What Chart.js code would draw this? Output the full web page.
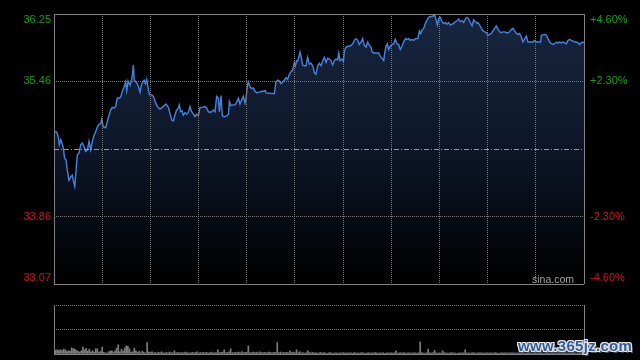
<!DOCTYPE html>
<html>
<head>
<meta charset="utf-8">
<script src="https://cdn.jsdelivr.net/npm/chart.js@4.4.1/dist/chart.umd.min.js"></script>
<style>
  html, body { margin: 0; padding: 0; background: #000; }
  #wrap { position: relative; width: 640px; height: 360px; overflow: hidden; background: #000; }
  #price { position: absolute; left: 0; top: 0; }
  #volume { position: absolute; left: 0; top: 290px; }
  .sina {
    position: absolute; left: 532px; top: 274px;
    font: 10.5px/11px "Liberation Sans", Arial, sans-serif; color: #a3a3a3;
  }
  .mark {
    position: absolute; left: 518px; top: 338px;
    font: bold 15px/15px "Liberation Sans", Arial, sans-serif; letter-spacing: 0.3px;
    color: #2f5d9f;
    text-shadow: 1px 0 #e6e6e6, -1px 0 #e6e6e6, 0 1px #e6e6e6, 0 -1px #e6e6e6,
                 1px 1px #e6e6e6, -1px -1px #e6e6e6, 1px -1px #e6e6e6, -1px 1px #e6e6e6,
                 2px 2px #555;
  }
</style>
</head>
<body>
<div id="wrap">
  <canvas id="price" width="640" height="290"></canvas>
  <canvas id="volume" width="640" height="70"></canvas>
  <div class="sina">sina.com</div>
  <div class="mark">www.365jz.com</div>
</div>
<script>
// minutes since the 09:30 open (330 trading minutes)
const minutes = [
  0.0,1.7,2.5,3.3,4.2,5.0,5.8,6.6,7.5,8.3,
  9.3,10.4,11.4,12.0,12.9,13.7,14.5,15.6,16.6,17.6,
  18.7,19.7,20.8,21.8,22.8,23.9,24.9,25.9,27.0,28.0,
  29.1,29.7,30.7,32.2,33.2,34.3,35.3,36.3,37.4,38.4,
  39.4,40.5,41.5,42.6,43.6,44.6,45.3,46.1,47.3,48.2,
  48.8,49.4,50.0,50.9,51.9,52.9,53.6,54.4,55.2,56.1,
  56.9,57.7,58.5,59.4,60.6,61.9,63.3,64.4,65.4,
  66.0,68.1,69.7,71.2,72.2,73.3,74.3,75.3,76.4,77.4,
  78.0,78.9,79.7,80.5,81.6,82.6,83.6,84.7,85.7,86.8,
  87.8,88.8,89.9,90.9,92.6,94.0,95.1,96.1,97.1,98.2,
  99.2,100.3,101.3,102.3,103.0,104.0,104.8,105.9,107.5,108.6,
  109.2,110.2,111.7,112.7,113.7,114.8,115.8,116.9,117.9,118.9,
  119.6,120.4,121.0,122.1,123.1,124.1,125.2,126.2,127.2,128.3,
  129.3,130.8,131.6,
  132.0,137.2,138.2,139.3,140.3,141.3,142.4,143.4,144.5,145.5,
  146.5,147.6,148.6,149.6,150.3,151.1,151.9,153.2,154.0,154.8,
  155.9,156.9,157.9,159.0,160.0,161.1,162.1,163.1,164.2,165.2,
  166.3,167.3,168.3,169.4,170.4,171.4,172.5,173.5,174.6,175.6,
  176.6,177.3,178.1,179.3,180.2,180.8,181.8,182.9,183.9,184.9,
  186.0,187.0,188.1,189.1,190.1,191.2,192.2,193.2,194.3,195.3,
  196.4,197.4,
  198.0,199.0,201.1,202.2,203.2,204.2,205.3,205.9,206.7,207.5,
  208.4,209.4,210.5,211.5,212.5,213.6,214.6,215.6,216.7,217.7,
  218.8,219.8,220.8,221.9,222.9,223.9,225.0,226.6,227.5,228.3,
  229.1,230.2,231.2,232.3,233.3,234.3,235.4,236.4,237.0,237.9,
  238.7,239.5,240.6,241.6,242.6,243.7,244.7,245.7,246.8,247.8,
  248.9,249.9,250.9,252.0,253.0,254.1,255.1,256.1,257.2,258.2,
  259.2,260.3,261.3,262.4,263.4,
  264.0,265.0,266.1,267.1,268.2,269.2,270.2,271.3,272.3,273.3,
  274.4,275.4,276.5,277.5,278.5,279.6,280.6,281.6,282.7,283.7,
  284.8,285.8,286.8,287.9,288.9,289.9,291.0,292.0,293.1,294.1,
  295.1,296.2,298.3,299.3,300.3,303.0,303.4,305.5,306.6,307.6,
  308.6,309.7,310.7,311.7,312.8,313.8,314.9,315.9,316.9,318.0,
  319.0,320.1,321.1,322.1,323.2,324.2,325.2,326.3,327.3,328.4,
  329.4,330.0
];

const prices = [
  34.87,34.86,34.81,34.71,34.77,34.73,34.67,34.55,34.53,34.41,
  34.29,34.33,34.35,34.29,34.22,34.39,34.59,34.61,34.71,34.73,
  34.69,34.63,34.65,34.75,34.65,34.75,34.82,34.86,34.92,34.95,
  34.96,35.01,34.92,34.91,34.98,35.06,35.12,35.15,35.14,35.16,
  35.26,35.26,35.27,35.34,35.39,35.45,35.35,35.46,35.41,35.47,
  35.53,35.65,35.47,35.45,35.43,35.37,35.33,35.41,35.45,35.47,
  35.43,35.48,35.39,35.30,35.30,35.28,35.20,35.16,35.14,
  35.13,35.16,35.19,35.15,35.08,35.00,34.99,35.06,35.12,35.14,
  35.18,35.10,35.11,35.06,35.09,35.07,35.09,35.16,35.10,35.07,
  35.04,35.07,35.05,35.15,35.15,35.16,35.14,35.10,35.09,35.10,
  35.12,35.10,35.28,35.26,35.10,35.29,35.05,35.04,35.05,35.07,
  35.22,35.17,35.18,35.18,35.21,35.26,35.19,35.24,35.28,35.20,
  35.26,35.41,35.45,35.39,35.37,35.38,35.34,35.32,35.33,35.33,
  35.34,35.34,35.35,
  35.32,35.31,35.45,35.47,35.46,35.43,35.45,35.47,35.50,35.48,
  35.54,35.57,35.59,35.68,35.64,35.70,35.70,35.80,35.74,35.65,
  35.64,35.64,35.74,35.66,35.67,35.64,35.56,35.54,35.64,35.67,
  35.64,35.70,35.74,35.68,35.73,35.72,35.70,35.65,35.70,35.72,
  35.71,35.79,35.70,35.72,35.69,35.81,35.86,35.87,35.87,35.88,
  35.90,35.94,35.96,35.94,35.89,35.92,35.96,35.88,35.86,35.92,
  35.88,35.86,
  35.81,35.79,35.79,35.79,35.75,35.73,35.70,35.79,35.87,35.90,
  35.83,35.87,35.89,35.90,35.95,35.90,35.89,35.83,35.87,35.92,
  35.96,35.95,35.96,35.94,35.95,35.94,35.96,35.96,36.05,36.02,
  36.06,36.08,36.14,36.18,36.21,36.22,36.22,36.23,36.24,36.18,
  36.12,36.20,36.21,36.16,36.14,36.15,36.13,36.15,36.12,36.13,
  36.14,36.16,36.17,36.19,36.16,36.17,36.15,36.19,36.21,36.19,
  36.15,36.11,36.18,36.16,36.14,
  36.15,36.12,36.08,36.05,36.04,36.03,36.00,36.01,36.02,36.05,
  36.08,36.11,36.07,36.04,36.03,36.04,36.04,36.03,36.03,36.04,
  36.07,36.08,36.05,36.02,36.01,36.02,35.98,35.92,35.96,35.99,
  35.92,35.92,35.92,35.94,35.92,35.92,36.00,36.01,36.00,35.96,
  35.92,35.90,35.89,35.90,35.92,35.91,35.92,35.91,35.92,35.91,
  35.90,35.94,35.95,35.94,35.93,35.92,35.92,35.91,35.89,35.91,
  35.92,35.91
];

// one value per minute (index = minute)
const volumes = [
  103,40,43,37,43,35,50,43,27,33,30,63,53,50,37,27,20,33,70,43,
  57,30,50,23,33,20,53,53,20,27,70,17,12,10,23,30,33,20,33,60,
  93,23,50,30,63,83,77,53,20,23,60,33,17,27,12,30,17,10,117,20,
  17,23,
  12,15,10,18,14,23,12,10,16,13,20,11,14,33,12,18,10,15,12,14,
  20,11,13,10,17,12,15,22,10,14,12,18,11,16,10,13,19,12,
  15,12,43,14,18,20,43,12,16,22,53,14,12,18,15,20,12,25,14,18,
  16,83,12,15,20,14,18,12,22,15,13,17,12,16,20,14,12,18,15,117,
  14,20,12,16,13,18,12,33,15,20,14,
  43,12,23,10,14,9,12,33,15,11,18,10,13,9,12,16,10,14,11,8,
  12,15,10,9,13,11,8,12,10,14,9,11,13,10,12,8,15,10,11,9,
  12,14,10,8,11,13,9,12,10,15,11,9,12,10,14,8,11,13,10,12,
  10,13,33,9,11,12,10,14,8,11,12,10,9,13,11,10,12,123,14,10,
  9,11,50,12,10,14,37,11,9,12,10,33,13,11,9,10,12,14,10,11,
  8,12,10,13,11,43,9,12,10,11,14,10,8,12,11,13,10,9,12,11,
  10,12,9,11,13,10,8,12,11,10,14,9,11,12,10,13,9,11,10,12,
  15,10,9,11,12,10,13,11,9,10,12,11,14,10,9,12,11,10,13,9,
  11,12,10,9,14,11,10,12,9,11,13,10,12,9,11,10,14,12,11,18
];

const prevClose = 34.66;
const priceTicks = [33.07, 33.86, 34.66, 35.46, 36.25];
const priceLabels = ['33.07', '33.86', '', '35.46', '36.25'];
const pctLabels = ['-4.60%', '-2.30%', '', '+2.30%', '+4.60%'];
const gridMinutes = [0, 30, 60, 90, 120, 150, 180, 210, 240, 270, 300, 330];
const volTicks = [0, 250, 500];

const frameColor = '#808080';
const dotColor = '#7a7a7a';

// left price labels and right percent labels, placed with the y scale
const axisLabels = {
  id: 'axisLabels',
  afterDraw(chart) {
    const { ctx, chartArea, scales } = chart;
    ctx.save();
    ctx.font = '11px "Liberation Sans", Arial, sans-serif';
    ctx.textBaseline = 'middle';
    priceTicks.forEach((v, i) => {
      if (!priceLabels[i]) return;
      let py = scales.y.getPixelForValue(v);
      py = Math.min(Math.max(py, chartArea.top + 6), chartArea.bottom - 6);
      ctx.fillStyle = v > prevClose ? '#12a012' : '#d41414';
      ctx.textAlign = 'right';
      ctx.fillText(priceLabels[i], chartArea.left - 3, py);
      ctx.textAlign = 'left';
      ctx.fillText(pctLabels[i], chartArea.right + 6, py);
    });
    ctx.restore();
  }
};

new Chart(document.getElementById('price'), {
  type: 'line',
  data: {
    datasets: [{
      data: minutes.map((m, i) => ({ x: m, y: prices[i] })),
      borderColor: '#4682e0',
      borderWidth: 1.4,
      pointRadius: 0,
      tension: 0,
      fill: 'start',
      backgroundColor: function(context) {
        const area = context.chart.chartArea;
        if (!area) return 'rgba(0,0,0,0)';
        const g = context.chart.ctx.createLinearGradient(0, area.top, 0, area.bottom);
        g.addColorStop(0, '#17263f');
        g.addColorStop(0.5, '#0d1628');
        g.addColorStop(1, '#000000');
        return g;
      }
    }]
  },
  options: {
    responsive: false,
    animation: false,
    events: [],
    layout: { padding: { left: 54, right: 56, top: 14, bottom: 6 } },
    plugins: { legend: { display: false }, tooltip: { enabled: false } },
    scales: {
      x: {
        type: 'linear', min: 0, max: 330,
        afterBuildTicks: s => { s.ticks = gridMinutes.map(v => ({ value: v })); },
        afterFit: s => { s.height = 0; },
        ticks: { display: false },
        grid: {
          z: 1,
          drawTicks: false,
          color: c => (c.index === 0 || c.index === gridMinutes.length - 1) ? frameColor : dotColor
        },
        border: {
          display: false,
          dash: c => (c.index === 0 || c.index === gridMinutes.length - 1) ? [] : [1, 1]
        }
      },
      y: {
        min: 33.07, max: 36.25,
        afterBuildTicks: s => { s.ticks = priceTicks.map(v => ({ value: v })); },
        afterFit: s => { s.width = 0; },
        ticks: { display: false },
        grid: {
          z: 1,
          drawTicks: false,
          color: c => {
            if (c.index === 0 || c.index === 4) return frameColor;
            return c.index === 2 ? '#9a9a9a' : dotColor;
          }
        },
        border: {
          display: false,
          dash: c => {
            if (c.index === 0 || c.index === 4) return [];
            return c.index === 2 ? [5, 2, 1, 2] : [1, 1];
          }
        }
      }
    }
  },
  plugins: [axisLabels]
});

new Chart(document.getElementById('volume'), {
  type: 'bar',
  data: {
    datasets: [{
      data: volumes.map((v, i) => ({ x: i, y: v })),
      backgroundColor: '#7d7d7d',
      barThickness: 1
    }]
  },
  options: {
    responsive: false,
    animation: false,
    events: [],
    layout: { padding: { left: 54, right: 56, top: 15, bottom: 6 } },
    plugins: { legend: { display: false }, tooltip: { enabled: false } },
    scales: {
      x: {
        type: 'linear', min: 0, max: 330, offset: false,
        afterBuildTicks: s => { s.ticks = [{ value: 0 }, { value: 330 }]; },
        afterFit: s => { s.height = 0; },
        ticks: { display: false },
        grid: { drawTicks: false, offset: false, color: frameColor },
        border: { display: false }
      },
      y: {
        min: 0, max: 500,
        afterBuildTicks: s => { s.ticks = volTicks.map(v => ({ value: v })); },
        afterFit: s => { s.width = 0; },
        ticks: { display: false },
        grid: { drawTicks: false, color: c => c.index === 0 ? frameColor : dotColor },
        border: { display: false, dash: c => c.index === 0 ? [] : [1, 1] }
      }
    }
  }
});
</script>
</body>
</html>
